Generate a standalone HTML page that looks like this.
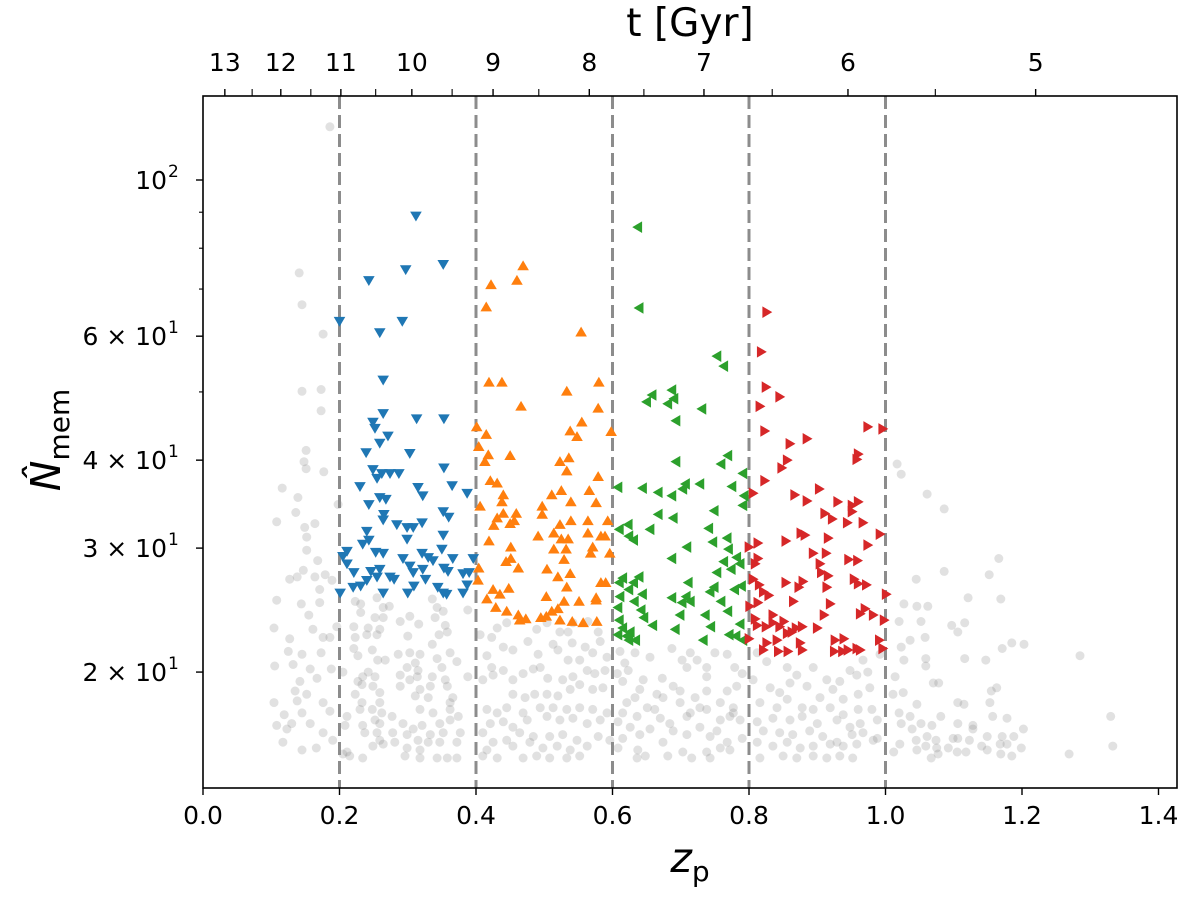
<!DOCTYPE html>
<html><head><meta charset="utf-8"><style>
body{margin:0;background:#fff;}
svg{display:block;font-family:"DejaVu Sans","Liberation Sans",sans-serif;}
</style></head>
<body>
<svg id="chart" width="1200" height="899" viewBox="0 0 1200 899">
<rect width="1200" height="899" fill="#fff"/>
<g id="grey"></g>
<g id="dash"></g>
<g id="marks"></g>
<g id="axes"></g>
<text x="690" y="36" font-size="39" text-anchor="middle">t [Gyr]</text>
<text x="690" y="872" font-size="41" text-anchor="middle" font-style="italic">z<tspan font-size="28" font-style="normal" dy="9">p</tspan></text>
<text transform="translate(60,440) rotate(-90)" font-size="41" text-anchor="middle" font-style="italic">N̂<tspan font-size="28" font-style="normal" dy="9">mem</tspan></text>
</svg>
<script>
const xTicks=[0.0,0.2,0.4,0.6,0.8,1.0,1.2,1.4];
const yMajorTicks=[20,30,40,60,100];
const yMajorLabels=["2 × 10","3 × 10","4 × 10","6 × 10","10"];
const yMajorExp=["1","1","1","1","2"];
const yMinorTicks=[50,70,80,90];
const binEdges=[0.2,0.4,0.6,0.8,1.0];
const topAges=[13,12,11,10,9,8,7,6,5];
const topAgeZ=[0.032,0.114,0.202,0.306,0.425,0.566,0.734,0.945,1.220];
const topMinorZ=[0.072,0.158,0.253,0.365,0.492,0.646,0.834,1.073];

const bluePts=[[0.312,88.9],[0.243,72],[0.297,74.6],[0.352,75.9],[0.200,63],[0.259,60.7],[0.292,63],[0.264,52],[0.264,46.6],[0.313,45.8],[0.353,45.8],[0.249,45.3],[0.252,44.4],[0.271,43.3],[0.259,42.3],[0.239,41],[0.303,40.9],[0.249,38.8],[0.262,38.3],[0.274,38.3],[0.287,38.3],[0.353,39],[0.255,37.7],[0.230,36.7],[0.315,36.6],[0.322,35.6],[0.365,36.8],[0.387,35.9],[0.259,35.4],[0.268,35.2],[0.243,34.6],[0.352,33.8],[0.360,33.2],[0.265,33.5],[0.264,32.9],[0.284,32.4],[0.299,32.1],[0.308,32.1],[0.321,32.6],[0.240,31.7],[0.243,30.8],[0.234,30.4],[0.299,30.9],[0.352,31.3],[0.211,29.7],[0.205,29.2],[0.211,28.5],[0.253,29.6],[0.264,29.5],[0.293,29],[0.321,29.5],[0.330,29.1],[0.337,28.8],[0.350,29.9],[0.366,29],[0.396,29],[0.221,27.7],[0.246,27.8],[0.255,27.3],[0.259,28],[0.240,27],[0.274,27.3],[0.280,27.1],[0.303,28.3],[0.308,27.7],[0.322,28],[0.326,27.1],[0.353,28.1],[0.359,27.8],[0.381,27.6],[0.390,27.7],[0.387,26.6],[0.220,26.4],[0.231,26.5],[0.201,25.9],[0.264,25.9],[0.300,25.9],[0.309,26.5],[0.344,26.4],[0.352,25.9],[0.357,25.8],[0.381,25.9]];
const orangePts=[[0.469,75.5],[0.422,71],[0.460,72],[0.415,66],[0.554,60.8],[0.419,51.6],[0.438,51.6],[0.580,51.6],[0.533,50.1],[0.466,47.7],[0.579,47.4],[0.555,45.3],[0.401,44.6],[0.415,43.5],[0.538,44],[0.548,43.2],[0.598,43.9],[0.404,41.8],[0.418,40.7],[0.450,40.6],[0.413,39.8],[0.523,39.8],[0.536,40.3],[0.533,38.6],[0.579,37.9],[0.421,37.4],[0.431,37.1],[0.440,35.7],[0.438,34.9],[0.406,34.4],[0.511,35.7],[0.525,36.2],[0.566,36.2],[0.539,34.9],[0.576,34.8],[0.497,34.4],[0.497,33.5],[0.459,33.6],[0.440,33.6],[0.431,33.1],[0.426,32.3],[0.450,32.5],[0.456,32.8],[0.523,32.4],[0.539,32.8],[0.564,32.8],[0.593,32.8],[0.491,31.2],[0.514,31.5],[0.525,30.9],[0.535,30.9],[0.564,31.5],[0.583,31.2],[0.589,31.2],[0.419,30.7],[0.451,30.1],[0.514,29.9],[0.532,29.9],[0.571,30.1],[0.568,29.5],[0.596,29.5],[0.451,29],[0.444,28.7],[0.529,28.9],[0.404,28.1],[0.462,28.1],[0.504,28],[0.538,27.6],[0.520,27.3],[0.583,26.8],[0.590,26.8],[0.403,27],[0.533,26.4],[0.425,26.2],[0.435,25.8],[0.448,26.3],[0.416,25.4],[0.503,25.6],[0.529,25.2],[0.551,25.2],[0.576,25.5],[0.576,25.3],[0.429,24.7],[0.445,24.4],[0.462,24.1],[0.464,23.7],[0.473,23.8],[0.495,23.9],[0.503,24],[0.511,24.4],[0.520,24.6],[0.523,23.7],[0.541,23.6],[0.557,23.5],[0.577,23.6]];
const greenPts=[[0.637,85.7],[0.639,65.8],[0.753,56.2],[0.763,54.4],[0.658,49.5],[0.687,50.3],[0.690,48.9],[0.650,48.4],[0.681,48.1],[0.731,47.3],[0.693,45.5],[0.693,39.8],[0.769,40.6],[0.759,39.5],[0.791,38.3],[0.608,36.6],[0.644,36.5],[0.667,36],[0.707,37],[0.703,36.4],[0.728,37],[0.775,36.7],[0.687,35.6],[0.793,35.6],[0.791,34.5],[0.667,33.5],[0.689,33.1],[0.749,33.9],[0.623,32.4],[0.610,31.9],[0.655,31.9],[0.741,32],[0.624,31.2],[0.631,30.8],[0.768,31],[0.747,30.6],[0.709,30.1],[0.770,29.9],[0.782,29.1],[0.687,29],[0.763,28.7],[0.787,28.5],[0.774,28],[0.753,27.7],[0.615,27.2],[0.639,27.3],[0.610,26.8],[0.631,26.8],[0.711,26.8],[0.789,26.5],[0.779,26.2],[0.749,26.4],[0.743,26],[0.624,26.2],[0.644,25.8],[0.611,25.6],[0.687,25.5],[0.708,25.6],[0.714,25.2],[0.702,25.1],[0.759,25.2],[0.632,25.2],[0.608,24.7],[0.642,24.5],[0.769,24.4],[0.699,24.1],[0.736,24.1],[0.646,23.9],[0.610,23.7],[0.659,23.3],[0.744,23.2],[0.787,23.4],[0.615,23.1],[0.692,23],[0.626,22.8],[0.608,22.6],[0.771,22.6],[0.781,22.5],[0.733,22.2],[0.791,22.2],[0.624,22.2],[0.634,22.2],[0.621,22.5]];
const redPts=[[0.826,64.9],[0.818,57],[0.825,50.8],[0.845,49.2],[0.816,47.7],[0.823,44],[0.974,44.6],[0.996,44.3],[0.860,42.2],[0.885,42.9],[0.856,40],[0.848,39],[0.960,40.8],[0.958,40.1],[0.823,37.4],[0.806,35.9],[0.867,35.7],[0.903,36.4],[0.885,35],[0.930,34.9],[0.960,34.9],[0.951,34.5],[0.951,33.8],[0.911,33.6],[0.922,33],[0.944,32.6],[0.967,32.6],[0.876,31.5],[0.882,31.3],[0.992,31.4],[0.854,30.7],[0.916,31],[0.813,30.5],[0.974,30.3],[0.800,30.1],[0.894,29.5],[0.913,29.5],[0.813,29],[0.946,28.9],[0.959,28.8],[0.809,28.5],[0.904,28.5],[0.906,27.7],[0.916,27.4],[0.806,27.1],[0.854,26.8],[0.879,26.9],[0.873,26.4],[0.914,26.4],[0.954,27.1],[0.960,26.7],[0.972,26.6],[0.815,26.6],[0.821,26],[0.829,25.7],[1.001,25.8],[0.865,25.2],[0.919,25],[0.813,25.1],[0.801,24.8],[0.835,24.1],[0.910,24.1],[0.963,24.2],[0.970,24.6],[0.982,24.1],[0.809,23.8],[0.851,23.6],[0.835,23.5],[0.812,23.3],[0.825,23.2],[0.845,23.2],[0.878,23.2],[0.900,23.1],[0.869,23.1],[0.856,22.7],[0.863,22.8],[0.998,23.7],[0.800,22.3],[0.841,22.2],[0.875,22],[0.926,22.2],[0.939,22.3],[0.991,22.2],[0.826,22],[0.821,21.5],[0.843,21.4],[0.857,21.4],[0.878,21.5],[0.925,21.4],[0.937,21.4],[0.945,21.5],[0.958,21.6],[0.963,21.5],[0.996,21.6]];
const greyPts=[[0.186,119],[0.141,73.8],[0.145,66.5],[0.176,60.4],[0.145,50.1],[0.173,50.4],[0.173,47],[0.151,41.3],[0.148,39.8],[0.151,38.9],[0.177,38.5],[0.116,36.5],[0.139,35.4],[0.198,34.6],[0.108,32.7],[0.136,33.7],[0.149,32.1],[0.164,32.5],[0.152,31.1],[0.152,29.8],[0.168,28.8],[0.147,27.9],[0.138,27.3],[0.164,27.3],[0.179,27.5],[0.127,27.1],[0.171,26.2],[0.189,27],[0.108,25.3],[0.144,25],[0.171,25.1],[0.155,24.1],[0.104,23.1],[0.161,23],[0.196,23.2],[0.176,22.4],[0.186,22.4],[0.127,22.3],[0.125,21.4],[0.145,21.2],[0.173,21.3],[0.105,20.4],[0.132,20.5],[0.157,20.2],[0.188,20.2],[0.142,19.4],[0.167,19.6],[0.135,18.8],[0.152,18.6],[0.104,18.1],[0.138,18.2],[0.176,18.1],[0.119,17.4],[0.145,17.5],[0.186,17.6],[0.108,16.8],[0.130,16.9],[0.157,16.9],[0.123,16.6],[0.176,16.4],[0.117,15.9],[0.145,15.5],[0.166,15.6],[0.190,16],[0.211,15.4],
[0.223,25.2],[0.231,25.0],[0.255,25.5],[0.264,24.7],[0.273,24.8],[0.231,24.3],[0.252,23.9],[0.264,23.9],[0.289,23.6],[0.303,24.0],[0.316,23.4],[0.336,25.4],[0.343,24.7],[0.352,24.4],[0.340,23.9],[0.355,23.3],[0.358,22.8],[0.388,24.5],[0.221,23.2],[0.242,23.1],[0.259,23.0],[0.255,22.6],[0.223,22.4],[0.240,22.6],[0.300,22.5],[0.336,21.9],[0.346,22.6],[0.221,21.6],[0.248,21.5],[0.227,21.1],[0.286,21.2],[0.303,21.3],[0.318,21.2],[0.343,20.9],[0.362,21.3],[0.372,20.7],[0.256,20.8],[0.267,20.8],[0.311,20.6],[0.299,20.3],[0.315,20.1],[0.350,20.3],[0.205,20.0],[0.242,20.0],[0.252,19.7],[0.234,19.7],[0.289,19.8],[0.314,19.7],[0.336,19.7],[0.388,19.7],[0.227,19.4],[0.233,19.2],[0.249,19.1],[0.303,19.5],[0.333,19.1],[0.355,19.5],[0.358,19.1],[0.223,18.6],[0.259,18.7],[0.289,19.1],[0.311,18.5],[0.318,18.9],[0.330,18.4],[0.366,18.4],[0.362,18.1],[0.233,18.1],[0.259,18.1],[0.211,17.3],[0.230,17.7],[0.248,17.7],[0.262,17.5],[0.277,17.3],[0.318,17.7],[0.337,17.5],[0.362,17.7],[0.374,17.3],[0.252,17.1],[0.259,16.9],[0.234,16.8],[0.208,16.8],[0.293,16.9],[0.321,16.8],[0.347,16.9],[0.362,17.1],[0.237,16.4],[0.255,16.4],[0.278,16.4],[0.308,16.6],[0.299,16.3],[0.333,16.3],[0.352,16.4],[0.377,16.4],[0.259,16.0],[0.281,15.9],[0.315,16.0],[0.330,15.9],[0.347,15.9],[0.372,15.9],[0.249,15.7],[0.264,15.8],[0.299,15.6],[0.318,15.5],[0.215,15.2],[0.234,15.1],[0.205,15.3],[0.296,15.2],[0.318,15.1],[0.343,15.1],[0.358,15.1],[0.372,15.1],
[0.406,22.6],[0.423,22.4],[0.440,21.7],[0.454,21.5],[0.416,21.1],[0.431,23.1],[0.445,23.5],[0.489,23.0],[0.504,23.5],[0.523,22.8],[0.535,22.8],[0.542,23.5],[0.564,23.6],[0.579,22.8],[0.476,22.1],[0.513,21.9],[0.541,22.0],[0.560,21.7],[0.582,22.1],[0.491,21.2],[0.520,21.5],[0.535,20.8],[0.552,20.8],[0.571,21.3],[0.592,21.0],[0.423,20.3],[0.440,20.1],[0.454,19.5],[0.469,19.9],[0.484,20.2],[0.494,20.3],[0.505,19.6],[0.527,19.5],[0.542,19.7],[0.563,20.1],[0.574,19.9],[0.589,20.1],[0.410,19.5],[0.425,19.8],[0.454,18.6],[0.472,18.4],[0.486,18.6],[0.504,18.6],[0.520,18.5],[0.538,18.9],[0.552,19.2],[0.571,18.9],[0.586,19.0],[0.416,17.7],[0.431,17.5],[0.445,17.8],[0.469,17.5],[0.494,17.8],[0.513,17.8],[0.533,17.7],[0.552,17.8],[0.571,17.7],[0.592,17.5],[0.421,16.9],[0.440,17.0],[0.454,16.7],[0.475,17.1],[0.504,17.3],[0.523,17.1],[0.542,17.2],[0.563,16.9],[0.582,17.1],[0.410,16.4],[0.445,16.0],[0.464,16.4],[0.484,16.2],[0.508,16.2],[0.527,16.3],[0.548,16.0],[0.579,16.2],[0.416,15.5],[0.425,15.9],[0.454,15.7],[0.479,15.9],[0.498,15.6],[0.519,15.7],[0.538,15.5],[0.563,15.7],[0.596,16.0],[0.410,15.2],[0.431,15.1],[0.469,15.1],[0.489,15.2],[0.508,15.1],[0.533,15.1],[0.552,15.2],
[0.611,21.4],[0.618,20.6],[0.633,21.3],[0.655,21.0],[0.687,21.6],[0.714,21.3],[0.607,19.9],[0.623,20.1],[0.615,19.4],[0.645,19.5],[0.673,19.6],[0.702,20.8],[0.709,20.3],[0.724,20.8],[0.738,20.3],[0.750,21.3],[0.768,21.2],[0.779,20.3],[0.790,19.9],[0.738,19.7],[0.640,18.9],[0.665,18.6],[0.689,19.1],[0.699,18.8],[0.721,18.4],[0.738,18.8],[0.768,18.8],[0.782,19.1],[0.621,18.1],[0.633,18.4],[0.674,18.4],[0.699,18.1],[0.728,17.8],[0.758,18.1],[0.777,17.8],[0.615,17.5],[0.651,17.8],[0.662,17.7],[0.714,17.5],[0.738,17.7],[0.777,17.5],[0.608,17.0],[0.636,17.3],[0.670,17.2],[0.684,16.9],[0.709,17.3],[0.758,17.1],[0.772,17.3],[0.787,17.1],[0.626,16.7],[0.655,16.6],[0.689,16.5],[0.728,16.7],[0.753,16.5],[0.615,16.1],[0.640,16.3],[0.674,15.9],[0.709,16.3],[0.743,16.2],[0.768,15.9],[0.790,16.1],[0.608,15.6],[0.637,15.5],[0.681,15.2],[0.703,15.4],[0.738,15.4],[0.758,15.6],[0.772,15.5],[0.636,15.1],[0.648,15.2],[0.716,15.1],[0.743,15.1],
[0.812,21.3],[0.826,20.7],[0.856,20.3],[0.870,19.8],[0.894,20.3],[0.914,19.5],[0.933,19.4],[0.948,20.1],[0.958,19.8],[0.967,20.8],[0.974,20.0],[0.992,21.2],[0.806,19.5],[0.831,19.0],[0.845,18.7],[0.860,19.3],[0.885,19.1],[0.904,18.4],[0.923,18.9],[0.938,18.3],[0.960,18.6],[0.977,19.0],[0.816,18.1],[0.841,17.8],[0.856,18.3],[0.878,17.8],[0.894,17.7],[0.919,17.8],[0.938,17.4],[0.960,17.7],[0.980,17.7],[0.812,17.0],[0.835,17.2],[0.860,17.1],[0.878,17.3],[0.900,16.9],[0.929,17.1],[0.948,16.7],[0.963,16.9],[0.988,17.1],[0.821,16.5],[0.845,16.4],[0.864,16.3],[0.889,16.5],[0.908,16.2],[0.929,15.9],[0.951,16.3],[0.967,16.4],[0.988,16.1],[0.812,15.9],[0.835,15.7],[0.856,15.9],[0.875,15.6],[0.894,15.7],[0.919,15.8],[0.938,15.7],[0.958,15.8],[0.982,16.0],[0.816,15.1],[0.850,15.2],[0.870,15.1],[0.894,15.2],[0.914,15.1],[0.933,15.2],[0.952,15.1],
[1.017,39.5],[1.023,38.2],[1.061,35.8],[1.086,34.1],[1.166,29],[1.086,27.8],[1.152,27.5],[1.045,27.1],[1.121,25.5],[1.169,25.4],[1.027,25],[1.046,24.8],[1.062,24.8],[1.020,23.6],[1.052,23.6],[1.097,23.3],[1.116,23.5],[1.106,22.8],[1.058,22.4],[1.036,22.2],[1.023,21.7],[1.185,22],[1.203,21.9],[1.171,21.6],[1.285,21.1],[1.027,20.8],[1.059,20.9],[1.116,20.9],[1.147,20.8],[1.059,20.4],[1.014,19.7],[1.070,19.3],[1.078,19.3],[1.026,18.7],[1.155,18.8],[1.163,19],[1.011,18.6],[1.106,18.1],[1.115,18],[1.153,18.1],[1.046,18],[1.020,17.5],[1.036,17.3],[1.081,17.3],[1.157,17.3],[1.178,17.2],[1.330,17.3],[1.023,16.9],[1.052,16.9],[1.068,16.8],[1.106,16.9],[1.128,16.8],[1.039,16.6],[1.128,16.6],[1.202,16.6],[1.061,16.2],[1.149,16.2],[1.171,16.2],[1.188,16.2],[1.045,16],[1.074,16],[1.099,16.1],[1.106,16.1],[1.123,16],[1.021,15.8],[1.059,15.7],[1.141,15.7],[1.168,15.8],[1.178,15.8],[1.333,15.7],[1.046,15.5],[1.075,15.6],[1.092,15.6],[1.149,15.5],[1.199,15.6],[1.012,15.4],[1.105,15.4],[1.118,15.4],[1.169,15.3],[1.185,15.2],[1.269,15.3],[1.067,15.1],[1.077,15.3]];

const X0=203,X1=1177,Y0=96,Y1=788;
function xs(z){return X0+z*682.5;}
function ys(n){return 180+(2-Math.log10(n))*704;}
const NS="http://www.w3.org/2000/svg";
function mk(tag,attrs,parent){const e=document.createElementNS(NS,tag);for(const k in attrs)e.setAttribute(k,attrs[k]);parent.appendChild(e);return e;}

const gGrey=document.getElementById('grey');
greyPts.forEach(p=>{
  const c=mk('circle',{cx:xs(p[0]).toFixed(1),cy:ys(p[1]).toFixed(1),r:4.5,fill:'#808080','fill-opacity':0.24},gGrey);
  
  
});

const gDash=document.getElementById('dash');
binEdges.forEach(z=>{
  const l=mk('line',{x1:xs(z),x2:xs(z),y1:Y0,y2:Y1,stroke:'#8c8c8c','stroke-width':3,'stroke-dasharray':'13,6'},gDash);
  
  
});

const gM=document.getElementById('marks');
function tri(x,y,dir){const s=5.8;
  if(dir==='down')return `${x-s},${y-s*0.75} ${x+s},${y-s*0.75} ${x},${y+s*0.95}`;
  if(dir==='up')return `${x-s},${y+s*0.75} ${x+s},${y+s*0.75} ${x},${y-s*0.95}`;
  if(dir==='left')return `${x+s*0.75},${y-s} ${x+s*0.75},${y+s} ${x-s*0.95},${y}`;
  return `${x-s*0.75},${y-s} ${x-s*0.75},${y+s} ${x+s*0.95},${y}`;}
function series(pts,dir,col,name){
  pts.forEach(p=>{
    const e=mk('polygon',{points:tri(xs(p[0]),ys(p[1]),dir),fill:col},gM);
    
    
  });
}
series(bluePts,'down','#1f77b4','bin1-point');
series(orangePts,'up','#ff7f0e','bin2-point');
series(greenPts,'left','#2ca02c','bin3-point');
series(redPts,'right','#d62728','bin4-point');

const gA=document.getElementById('axes');
const frame=mk('rect',{x:X0,y:Y0,width:X1-X0,height:Y1-Y0,fill:'none',stroke:'#000','stroke-width':1.6},gA);


xTicks.forEach(v=>{
  const x=xs(v);
  mk('line',{x1:x,x2:x,y1:Y1,y2:Y1+7,stroke:'#000','stroke-width':1.4},gA);
  const t=mk('text',{x:x,y:Y1+36,'font-size':25,'text-anchor':'middle'},gA);
  t.textContent=v.toFixed(1);
  
  
});
yMajorTicks.forEach((v,i)=>{
  const y=ys(v);
  mk('line',{x1:X0-7,x2:X0,y1:y,y2:y,stroke:'#000','stroke-width':1.4},gA);
  const t=mk('text',{x:X0-36,y:y+9,'font-size':25,'text-anchor':'end'},gA);
  t.textContent=yMajorLabels[i];
  
  
  const e=mk('text',{x:X0-35,y:y-3,'font-size':17,'text-anchor':'start'},gA);
  e.textContent=yMajorExp[i];
  
  
});
yMinorTicks.forEach(v=>{
  const y=ys(v);
  mk('line',{x1:X0-4,x2:X0,y1:y,y2:y,stroke:'#000','stroke-width':1.1},gA);
});
topAges.forEach((a,i)=>{
  const x=xs(topAgeZ[i]);
  mk('line',{x1:x,x2:x,y1:Y0,y2:Y0-7,stroke:'#000','stroke-width':1.4},gA);
  const t=mk('text',{x:x,y:Y0-25,'font-size':25,'text-anchor':'middle'},gA);
  t.textContent=String(a);
  
  
});
topMinorZ.forEach(z=>{
  const x=xs(z);
  mk('line',{x1:x,x2:x,y1:Y0,y2:Y0-7,stroke:'#000','stroke-width':1.1},gA);
});
</script>
</body></html>
